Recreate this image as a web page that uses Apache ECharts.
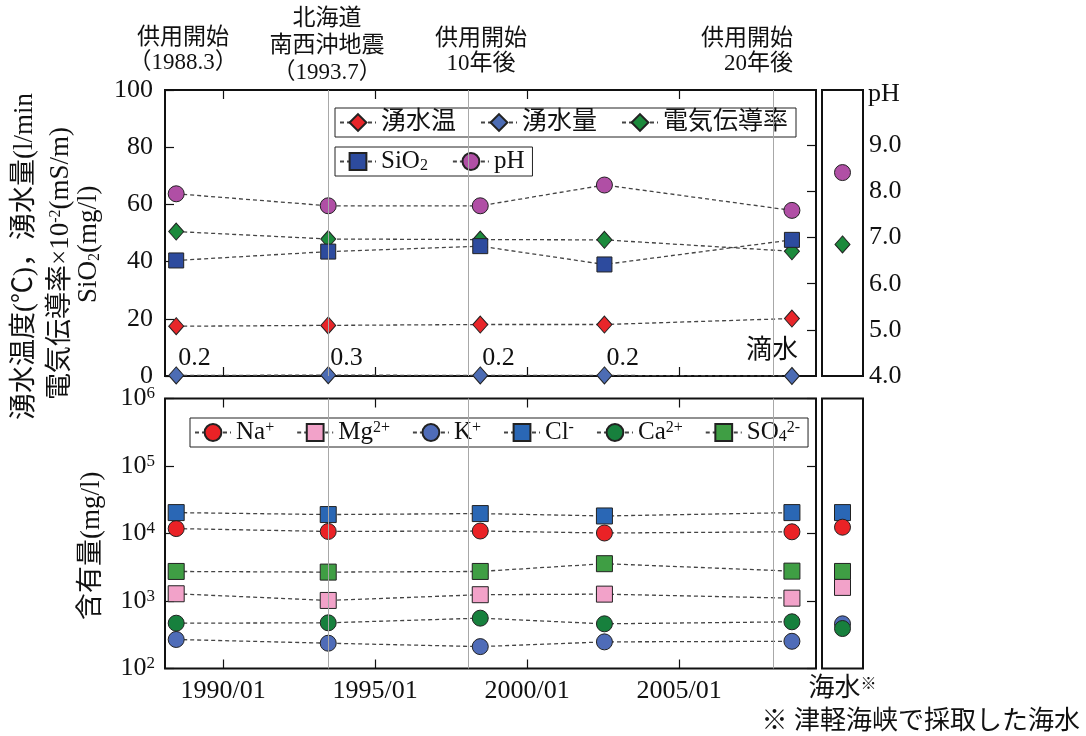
<!DOCTYPE html>
<html><head><meta charset="utf-8">
<script src="https://cdn.jsdelivr.net/npm/echarts@6/dist/echarts.min.js"></script>
<style>html,body{margin:0;padding:0;background:#fff}#c{width:1086px;height:736px}</style>
</head><body><div id="c"></div>
<script>
// ---- data ----
const sampleDates = ['1988-06', '1993-06', '1998-06', '2002-07', '2008-09'];
const eventYears = [1993.45, 1998.06, 2008.10];
const xTicks = [1990, 1995, 2000, 2005];
const phTicks = [5, 6, 7, 8, 9];
const phLabels = [4, 5, 6, 7, 8, 9];

const temp = [17.4, 17.7, 18.0, 18.0, 20.1];
const flow = [0.2, 0.3, 0.2, 0.2, 0];
const flowLabels = ['0.2', '0.3', '0.2', '0.2', '滴水'];
const cond = [50.5, 47.9, 47.7, 47.6, 43.6];
const sio2 = [40.4, 43.5, 45.4, 39.0, 47.6];
const ph = [7.95, 7.69, 7.69, 8.14, 7.59];
const seaCond = 46.0;
const seaPh = 8.41;

const ionNames = ['Na+', 'Mg2+', 'K+', 'Cl-', 'Ca2+', 'SO42-'];
const na = [11830, 10720, 10890, 10170, 10600];
const mg = [1280, 1019, 1239, 1264, 1102];
const k = [269, 237, 211, 248, 253];
const cl = [20400, 19070, 19740, 18190, 20400];
const ca = [469, 475, 557, 459, 492];
const so4 = [2740, 2680, 2740, 3570, 2770];
const seaIons = [12400, 1590, 459, 20400, 391, 2740];

// ---- helpers ----
const FONT = "'Liberation Serif','Noto Sans CJK JP',serif";
const INK = '#111';
function toYear(s) { const p = s.split('-').map(Number); return p[0] + (p[1] - 0.5) / 12; }
const xs = sampleDates.map(toYear);
const pairs = arr => arr.map((v, i) => [xs[i], v]);
const dashed = { type: [4, 3], color: '#444', width: 1.3 };
const edge = { borderColor: '#222', borderWidth: 1, opacity: 1 };

function lineSeries(name, data, symbol, size, color, xi, yi) {
  return { type: 'line', name, data: pairs(data), xAxisIndex: xi, yAxisIndex: yi, symbol, symbolSize: size,
    showSymbol: true, itemStyle: Object.assign({ color }, edge), lineStyle: dashed, z: 3,
    animation: false, emphasis: { disabled: true } };
}
function seaSeries(name, value, symbol, size, color, xi, yi) {
  return { type: 'scatter', name, data: [['海水', value]], xAxisIndex: xi, yAxisIndex: yi, symbol,
    symbolSize: size, itemStyle: Object.assign({ color }, edge), z: 3, animation: false, emphasis: { disabled: true } };
}
const tickStyle = { color: INK, width: 1.2 };
function timeAxis(grid, pos, labels) {
  return { type: 'value', gridIndex: grid, position: pos, min: 1988.09, max: 2009.5,
    axisLine: { show: false }, splitLine: { show: false },
    axisTick: { inside: true, length: 9, lineStyle: tickStyle, customValues: xTicks },
    axisLabel: labels ? { customValues: xTicks, formatter: v => v + '/01', fontSize: 26, fontFamily: FONT, color: INK, margin: 10 } : { show: false } };
}
const supRich = {
  b: { fontSize: 26, fontFamily: FONT, color: INK },
  s: { fontSize: 17, fontFamily: FONT, color: INK, verticalAlign: 'top' },
  sup: { fontSize: 16, fontFamily: FONT, color: INK, verticalAlign: 'top' },
  sub: { fontSize: 16, fontFamily: FONT, color: INK, verticalAlign: 'bottom' }
};
const ionLabel = { 'Na+': 'Na{sup|+}', 'Mg2+': 'Mg{sup|2+}', 'K+': 'K{sup|+}', 'Cl-': 'Cl{sup|-}', 'Ca2+': 'Ca{sup|2+}', 'SO42-': 'SO{sub|4}{sup|2-}' };

// ---- series ----
const flowSeries = lineSeries('湧水量', flow, 'diamond', [15, 17], '#4c6cb4', 0, 0);
flowSeries.data = flowSeries.data.map((d, i) => ({ value: d, label: {
  show: true, formatter: flowLabels[i], position: 'inside', align: i < 4 ? 'left' : 'right',
  verticalAlign: 'middle', offset: i < 4 ? [2, -17] : [6, -25], fontSize: 26, fontFamily: FONT, color: INK } }));

const ionColors = ['#ea2226', '#f2a2c9', '#4f6cb8', '#2a67b5', '#17803d', '#3f9e44'];
const ionSymbols = ['circle', 'rect', 'circle', 'rect', 'circle', 'rect'];
const ionData = [na, mg, k, cl, ca, so4];

const series = [
  { type: 'line', xAxisIndex: 0, yAxisIndex: 0, data: [], z: 1, silent: true,
    markLine: { silent: true, symbol: ['none', 'none'], label: { show: false }, animation: false,
      lineStyle: { color: '#a8a8a8', type: 'solid', width: 1 }, data: eventYears.map(x => ({ xAxis: x })) } },
  { type: 'line', xAxisIndex: 3, yAxisIndex: 4, data: [], z: 1, silent: true,
    markLine: { silent: true, symbol: ['none', 'none'], label: { show: false }, animation: false,
      lineStyle: { color: '#a8a8a8', type: 'solid', width: 1 }, data: eventYears.map(x => ({ xAxis: x })) } },
  lineSeries('湧水温', temp, 'diamond', [15, 17], '#e8262a', 0, 0),
  flowSeries,
  lineSeries('電気伝導率', cond, 'diamond', [15, 17], '#1c8a3c', 0, 0),
  lineSeries('SiO2', sio2, 'rect', 15, '#2d4b9e', 0, 0),
  lineSeries('pH', ph, 'circle', 16, '#b04fa5', 0, 1),
  seaSeries('電気伝導率', seaCond, 'diamond', [15, 17], '#1c8a3c', 2, 2),
  seaSeries('pH', seaPh, 'circle', 16, '#b04fa5', 2, 3)
];
ionNames.forEach((n, i) => series.push(lineSeries(n, ionData[i], ionSymbols[i], 16, ionColors[i], 3, 4)));
[3, 0, 5, 1, 2, 4].forEach(i => series.push(seaSeries(ionNames[i], seaIons[i], ionSymbols[i], 16, ionColors[i], 5, 6)));

const gridBase = { show: true, borderColor: INK, borderWidth: 2, backgroundColor: 'transparent' };
const legendBase = { orient: 'horizontal', itemWidth: 36, itemHeight: 21, itemGap: 24, padding: [2, 8, 2, 4],
  borderColor: '#222', borderWidth: 1, selectedMode: false,
  textStyle: { fontSize: 25, fontFamily: FONT, color: INK, rich: supRich } };

const option = {
  backgroundColor: '#fff',
  animation: false,
  grid: [
    Object.assign({ left: 165, top: 90, width: 651, height: 286 }, gridBase),
    Object.assign({ left: 822, top: 90, width: 41, height: 286 }, gridBase),
    Object.assign({ left: 165, top: 398.5, width: 651, height: 270 }, gridBase),
    Object.assign({ left: 822, top: 398.5, width: 41, height: 270 }, gridBase)
  ],
  xAxis: [
    timeAxis(0, 'bottom', false),
    timeAxis(0, 'top', false),
    { type: 'category', gridIndex: 1, data: ['海水'], axisLine: { show: false }, axisTick: { show: false }, axisLabel: { show: false } },
    timeAxis(2, 'bottom', true),
    timeAxis(2, 'top', false),
    { type: 'category', gridIndex: 3, data: ['海水'], axisLine: { show: false }, axisTick: { show: false },
      axisLabel: { formatter: '{b|海水}{sup|※}', rich: supRich, margin: 8 } }
  ],
  yAxis: [
    { type: 'value', gridIndex: 0, position: 'left', min: 0, max: 100, interval: 20,
      axisLine: { show: false }, splitLine: { show: false },
      axisTick: { inside: true, length: 9, lineStyle: tickStyle },
      axisLabel: { fontSize: 26, fontFamily: FONT, color: INK, margin: 12, showMinLabel: true, showMaxLabel: true } },
    { type: 'value', gridIndex: 0, position: 'right', min: 4, max: 10.2,
      axisLine: { show: false }, splitLine: { show: false },
      axisTick: { inside: true, length: 9, lineStyle: tickStyle, customValues: phTicks }, axisLabel: { show: false } },
    { type: 'value', gridIndex: 1, position: 'left', min: 0, max: 100, show: false },
    { type: 'value', gridIndex: 1, position: 'right', min: 4, max: 10.2,
      axisLine: { show: false }, splitLine: { show: false },
      axisTick: { inside: true, length: 9, lineStyle: tickStyle, customValues: phTicks },
      axisLabel: { customValues: phLabels, formatter: v => v.toFixed(1), fontSize: 26, fontFamily: FONT, color: INK, margin: 6 } },
    { type: 'log', logBase: 10, gridIndex: 2, position: 'left', min: 100, max: 1e6,
      axisLine: { show: false }, splitLine: { show: false }, minorTick: { show: false },
      axisTick: { inside: true, length: 9, lineStyle: tickStyle },
      axisLabel: { formatter: v => '{b|10}{s|' + Math.round(Math.log10(v)) + '}', rich: supRich, margin: 10, showMinLabel: true, showMaxLabel: true } },
    { type: 'log', logBase: 10, gridIndex: 2, position: 'right', min: 100, max: 1e6,
      axisLine: { show: false }, splitLine: { show: false },
      axisTick: { inside: true, length: 9, lineStyle: tickStyle }, axisLabel: { show: false } },
    { type: 'log', logBase: 10, gridIndex: 3, position: 'right', min: 100, max: 1e6,
      axisLine: { show: false }, splitLine: { show: false },
      axisTick: { inside: true, length: 9, lineStyle: tickStyle }, axisLabel: { show: false } }
  ],
  legend: [
    Object.assign({}, legendBase, { data: ['湧水温', '湧水量', '電気伝導率'], left: 335, top: 108 }),
    Object.assign({}, legendBase, { data: ['SiO2', 'pH'], left: 335, top: 147,
      formatter: n => n === 'SiO2' ? 'SiO{sub|2}' : n }),
    Object.assign({}, legendBase, { data: ionNames, left: 190, top: 418, itemGap: 22,
      formatter: n => ionLabel[n] })
  ],
  graphic: [
    { type: 'text', x: 183, y: 50, style: { text: '供用開始\n（1988.3）', font: '23px ' + FONT, fill: INK, textAlign: 'center', textVerticalAlign: 'middle', lineHeight: 25 } },
    { type: 'text', x: 327, y: 46, style: { text: '北海道\n南西沖地震\n（1993.7）', font: '23px ' + FONT, fill: INK, textAlign: 'center', textVerticalAlign: 'middle', lineHeight: 27 } },
    { type: 'text', x: 481, y: 51, style: { text: '供用開始\n10年後', font: '23px ' + FONT, fill: INK, textAlign: 'center', textVerticalAlign: 'middle', lineHeight: 25 } },
    { type: 'text', x: 793, y: 51, style: { text: '供用開始\n20年後', font: '23px ' + FONT, fill: INK, textAlign: 'right', textVerticalAlign: 'middle', lineHeight: 25 } },
    { type: 'text', x: 868, y: 94, style: { text: 'pH', font: '26px ' + FONT, fill: INK, textAlign: 'left', textVerticalAlign: 'middle' } },
    { type: 'text', x: 25, y: 420, rotation: Math.PI / 2, style: { text: '湧水温度(℃)，湧水量(l/min', font: '27px ' + FONT, fill: INK, textAlign: 'left', textVerticalAlign: 'middle' } },
    { type: 'text', x: 61, y: 400, rotation: Math.PI / 2, style: { text: '電気伝導率×10{sup|-2}(mS/m)', font: '27px ' + FONT, fill: INK, textAlign: 'left', textVerticalAlign: 'middle', rich: supRich } },
    { type: 'text', x: 89, y: 303, rotation: Math.PI / 2, style: { text: 'SiO{sub|2}(mg/l)', font: '27px ' + FONT, fill: INK, textAlign: 'left', textVerticalAlign: 'middle', rich: supRich } },
    { type: 'text', x: 92, y: 620, rotation: Math.PI / 2, style: { text: '含有量(mg/l)', font: '27px ' + FONT, fill: INK, textAlign: 'left', textVerticalAlign: 'middle' } },
    { type: 'text', x: 1080, y: 722, style: { text: '※ 津軽海峡で採取した海水', font: '26px ' + FONT, fill: INK, textAlign: 'right', textVerticalAlign: 'middle' } }
  ],
  series
};
const chart = echarts.init(document.getElementById('c'));
chart.setOption(option);
</script>
</body></html>
